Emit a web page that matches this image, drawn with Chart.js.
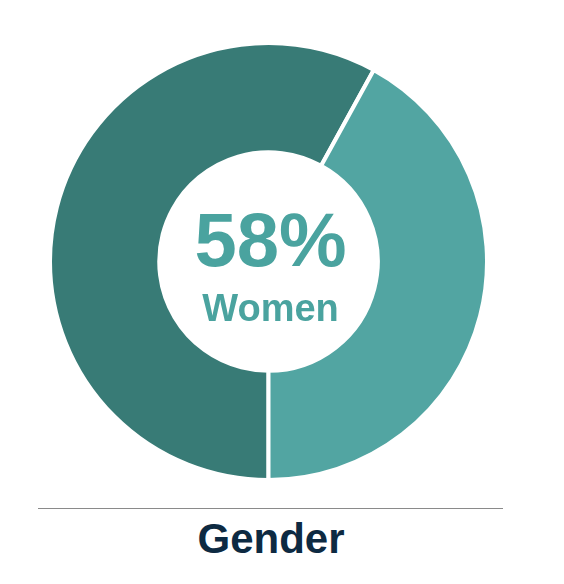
<!DOCTYPE html>
<html lang="en">
<head>
    <meta charset="UTF-8">
    <title>Gender</title>
    <script src="https://cdn.jsdelivr.net/npm/chart.js"></script>
    <style>
        html, body { margin: 0; padding: 0; background: #fff; }
        body { width: 564px; height: 584px; position: relative; overflow: hidden; font-family: "Liberation Sans", Arial, sans-serif; }
        .chart-box { position: absolute; left: 48px; top: 41px; width: 441px; height: 441px; }
        .rule { position: absolute; left: 38px; top: 508px; width: 465px; height: 0; border-top: 1.5px solid #8a8a8a; }
        .caption { position: absolute; left: 0; width: 542px; top: 515px; text-align: center; font-weight: bold; font-size: 42px; color: #0d2a42; }
    </style>
</head>
<body>
    <div class="chart-box"><canvas id="genderChart"></canvas></div>
    <div class="rule"></div>
    <div class="caption">Gender</div>

    <script>
        // Gender split (percent)
        const labels = ['Women', 'Men'];
        const values = [58, 42];
        const colors = ['#387b76', '#52a5a2'];
        const centerValue = '58%';
        const centerLabel = 'Women';

        // Text in the hole of the doughnut
        const centerText = {
            id: 'centerText',
            afterDraw(chart) {
                const arc = chart.getDatasetMeta(0).data[0];
                const ctx = chart.ctx;
                ctx.save();
                ctx.fillStyle = '#4aa39f';
                ctx.textAlign = 'center';
                ctx.textBaseline = 'alphabetic';
                ctx.font = 'bold 76px "Liberation Sans", Arial, sans-serif';
                ctx.fillText(centerValue, arc.x + 2, arc.y + 4);
                ctx.font = 'bold 38px "Liberation Sans", Arial, sans-serif';
                ctx.fillText(centerLabel, arc.x + 2, arc.y + 59);
                ctx.restore();
            }
        };

        new Chart(document.getElementById('genderChart'), {
            type: 'doughnut',
            data: {
                labels: labels,
                datasets: [{
                    data: values,
                    backgroundColor: colors,
                    borderColor: '#ffffff',
                    borderWidth: 4
                }]
            },
            options: {
                responsive: true,
                maintainAspectRatio: false,
                animation: false,
                rotation: 180,
                cutout: '50%',
                layout: { padding: 0 },
                plugins: {
                    legend: { display: false },
                    tooltip: { enabled: false }
                }
            },
            plugins: [centerText]
        });
    </script>
</body>
</html>
